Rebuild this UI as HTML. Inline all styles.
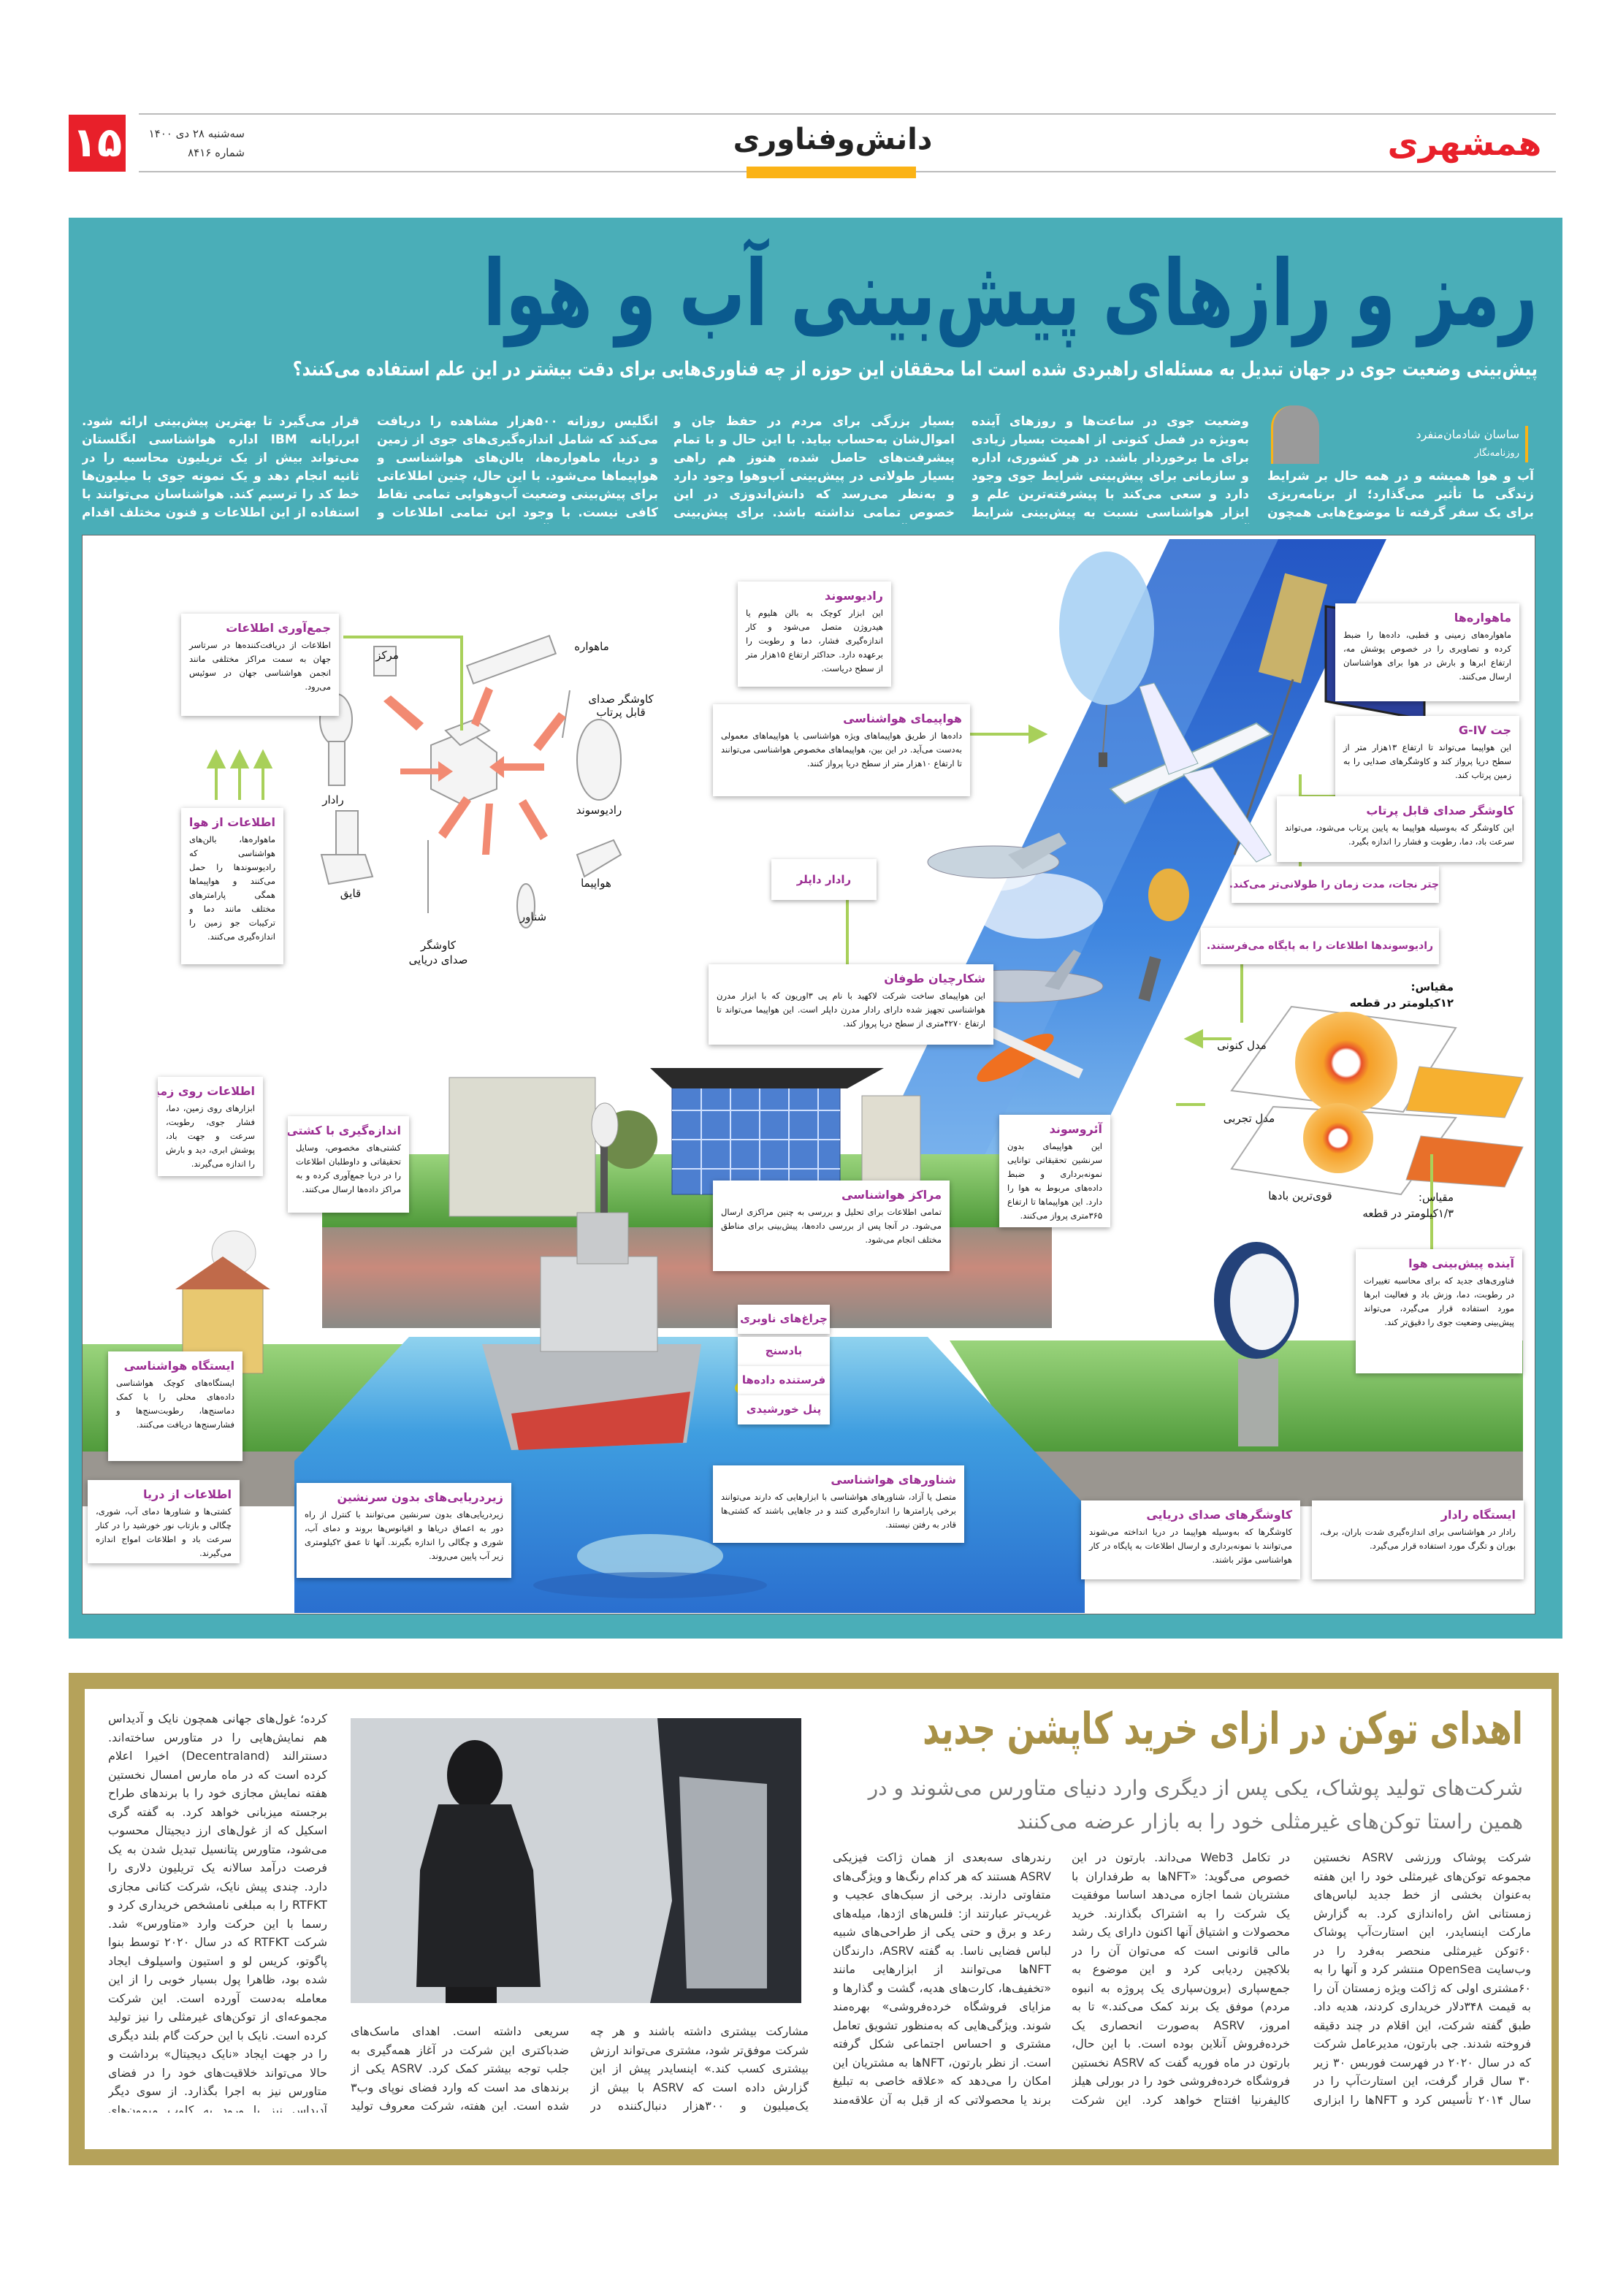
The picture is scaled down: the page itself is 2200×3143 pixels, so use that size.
<!DOCTYPE html>
<html><head><meta charset="utf-8">
<style>
*{margin:0;padding:0;box-sizing:border-box}
body{width:2200px;height:3143px;background:#fff;position:relative;overflow:hidden;font-family:"DejaVu Sans",sans-serif;direction:rtl}
.a{position:absolute}
.col{position:absolute;color:#fff;font-size:17px;line-height:25px;text-align:justify;overflow:hidden;font-weight:bold}
.b{position:absolute;background:#fff;box-shadow:0 2px 7px rgba(0,0,0,.35);padding:8px 11px;font-size:11.5px;line-height:19px;text-align:justify;color:#111;overflow:hidden}
.b h4{color:#9c2f93;font-size:16px;margin:2px 0 5px;font-weight:bold;white-space:nowrap}
.chip{position:absolute;background:#fff;box-shadow:0 2px 6px rgba(0,0,0,.35);color:#9c2f93;font-weight:bold;font-size:15px;text-align:center;line-height:38px;white-space:nowrap}
.lb{position:absolute;font-size:15px;color:#111;white-space:nowrap;text-align:center;transform:translateX(50%)}
.bt{position:absolute;color:#333;font-size:16px;line-height:25.5px;text-align:justify;overflow:hidden}
</style></head><body>

<!-- header -->
<div class="a" style="left:190px;top:155px;width:1940px;height:2px;background:#bbb"></div>
<div class="a" style="left:190px;top:234px;width:1940px;height:2px;background:#bbb"></div>
<div class="a" style="left:94px;top:157px;width:78px;height:78px;background:#e8202a;color:#fff;font-size:56px;font-weight:bold;text-align:center;line-height:78px">۱۵</div>
<div class="a" style="left:185px;top:170px;font-size:15px;color:#333;line-height:26px;text-align:right;width:150px">سه‌شنبه ۲۸ دی ۱۴۰۰<br>شماره ۸۴۱۶</div>
<div class="a" style="left:980px;top:168px;width:320px;text-align:center;font-size:40px;font-weight:bold;color:#222">دانش‌وفناوری</div>
<div class="a" style="left:1022px;top:228px;width:232px;height:16px;background:#fbb316"></div>
<div class="a" style="left:1880px;top:172px;width:250px;height:48px;color:#e8202a;font-size:46px;font-weight:bold;line-height:48px;text-align:center;letter-spacing:-2px">همشهری</div>

<!-- teal section -->
<div class="a" style="left:94px;top:298px;width:2045px;height:1945px;background:#4aaeb8"></div>
<div class="a" style="left:100px;top:318px;width:2005px;text-align:right;font-size:125px;font-weight:bold;color:#0a5a8e;line-height:170px;white-space:nowrap;transform:scaleX(.72);transform-origin:right center">رمز و رازهای پیش‌بینی آب و هوا</div>
<div class="a" style="left:100px;top:490px;width:2005px;text-align:right;font-size:27px;font-weight:bold;color:#fff;white-space:nowrap;transform:scaleX(.82);transform-origin:right center">پیش‌بینی وضعیت جوی در جهان تبدیل به مسئله‌ای راهبردی شده است اما محققان این حوزه از چه فناوری‌هایی برای دقت بیشتر در این علم استفاده می‌کنند؟</div>

<div class="a" style="left:1740px;top:555px;width:66px;height:80px;background:#9a9a9a;border-left:3px solid #fbb316;border-radius:30px 30px 0 0"></div>
<div class="a" style="left:1900px;top:583px;width:192px;height:50px;border-right:4px solid #fbb316;padding-right:8px;color:#fff;font-size:16px;line-height:24px;text-align:right;white-space:nowrap">ساسان شادمان‌منفرد<br><span style="font-size:13px">روزنامه‌نگار</span></div>
<div class="col" style="left:1735px;top:640px;width:365px;height:76px">آب و هوا همیشه و در همه حال بر شرایط زندگی ما تأثیر می‌گذارد؛ از برنامه‌ریزی برای یک سفر گرفته تا موضوع‌هایی همچون کشاورزی و... بنابراین به‌نظر می‌رسد که دانستن</div>
<div class="col" style="left:1330px;top:565px;width:380px;height:152px">وضعیت جوی در ساعت‌ها و روزهای آینده به‌ویژه در فصل کنونی از اهمیت بسیار زیادی برای ما برخوردار باشد. در هر کشوری، اداره و سازمانی برای پیش‌بینی شرایط جوی وجود دارد و سعی می‌کند با پیشرفته‌ترین علم و ابزار هواشناسی نسبت به پیش‌بینی شرایط آب‌وهوا اقدام کند. هشدارهای اداره‌های هواشناسی در دنیا می‌تواند کمک</div>
<div class="col" style="left:922px;top:565px;width:385px;height:152px">بسیار بزرگی برای مردم در حفظ جان و اموال‌شان به‌حساب بیاید. با این حال و با تمام پیشرفت‌های حاصل شده، هنوز هم راهی بسیار طولانی در پیش‌بینی آب‌وهوا وجود دارد و به‌نظر می‌رسد که دانش‌اندوزی در این خصوص تمامی نداشته باشد. برای پیش‌بینی شرایط آب‌وهوایی نیاز است داده‌های بسیاری جمع‌آوری شود. به‌عنوان مثال، اداره هواشناسی</div>
<div class="col" style="left:516px;top:565px;width:385px;height:152px">انگلیس روزانه ۵۰۰هزار مشاهده را دریافت می‌کند که شامل اندازه‌گیری‌های جوی از زمین و دریا، ماهواره‌ها، بالن‌های هواشناسی و هواپیماها می‌شود. با این حال، چنین اطلاعاتی برای پیش‌بینی وضعیت آب‌وهوایی تمامی نقاط کافی نیست. با وجود این تمامی اطلاعات و مشاهدات به‌دست آمده مورد بررسی و تحلیل</div>
<div class="col" style="left:112px;top:565px;width:380px;height:152px">قرار می‌گیرد تا بهترین پیش‌بینی ارائه شود. ابررایانه IBM اداره هواشناسی انگلستان می‌تواند بیش از یک تریلیون محاسبه را در ثانیه انجام دهد و یک نمونه جوی با میلیون‌ها خط کد را ترسیم کند. هواشناسان می‌توانند با استفاده از این اطلاعات و فنون مختلف اقدام به پیش‌بینی شرایط جوی در ساعت‌ها و روزهای آینده کنند.</div>

<!-- infographic white area -->
<div class="a" style="left:112px;top:732px;width:1990px;height:1478px;background:#fff;border:1px solid #666"></div>

<svg class="a" style="left:0;top:0" width="2200" height="3143">
<defs>
<linearGradient id="beam" x1="0" y1="0" x2="0" y2="1"><stop offset="0" stop-color="#2456c4"/><stop offset=".6" stop-color="#3f86e0"/><stop offset="1" stop-color="#8cc2f0"/></linearGradient>
<linearGradient id="sea" x1="0" y1="0" x2="0" y2="1"><stop offset="0" stop-color="#8fd2ee"/><stop offset=".35" stop-color="#3f9ee0"/><stop offset="1" stop-color="#2a6fcf"/></linearGradient>
<linearGradient id="grass" x1="0" y1="0" x2="0" y2="1"><stop offset="0" stop-color="#9ad47c"/><stop offset="1" stop-color="#4f9a3a"/></linearGradient>
<linearGradient id="soil" x1="0" y1="0" x2="0" y2="1"><stop offset="0" stop-color="#9a8d80"/><stop offset=".4" stop-color="#c98a7c"/><stop offset="1" stop-color="#8a8a86"/></linearGradient>
<linearGradient id="photo" x1="0" y1="0" x2="1" y2="0"><stop offset="0" stop-color="#d9dde0"/><stop offset="1" stop-color="#b8bec4"/></linearGradient>
<radialGradient id="st1"><stop offset="0" stop-color="#fff"/><stop offset=".25" stop-color="#fff"/><stop offset=".3" stop-color="#e8502a"/><stop offset=".45" stop-color="#f6a028"/><stop offset="1" stop-color="#f8c060"/></radialGradient>
</defs>
<polygon points="1601,738 1898,738 1466,1640 1169,1640" fill="url(#beam)"/>
<polygon points="1601,738 1750,738 1320,1640 1169,1640" fill="#6fa9ec" opacity=".45"/>
<ellipse cx="1420" cy="1240" rx="90" ry="45" fill="#fff" opacity=".7"/>
<ellipse cx="1360" cy="1190" rx="60" ry="30" fill="#fff" opacity=".6"/>
<rect x="1740" y="790" width="60" height="140" fill="#c9b26a" transform="rotate(15 1770 860)"/>
<polygon points="1815,830 1950,850 1950,985 1815,960" fill="#2b3f9a" stroke="#222" stroke-width="3"/>
<line x1="1770" y1="930" x2="1690" y2="1170" stroke="#666" stroke-width="3"/>
<ellipse cx="1515" cy="860" rx="65" ry="105" fill="#a8d2f4" opacity=".9"/>
<line x1="1515" y1="965" x2="1510" y2="1030" stroke="#777" stroke-width="2"/>
<rect x="1504" y="1030" width="12" height="20" fill="#555"/>
<polygon points="1520,1080 1720,990 1740,1005 1540,1100" fill="#f4f6fa" stroke="#8aa" stroke-width="2"/>
<polygon points="1600,1060 1560,940 1580,935 1640,1045" fill="#eef" stroke="#8aa"/>
<polygon points="1620,1060 1720,1180 1740,1170 1660,1050" fill="#eef" stroke="#8aa"/>
<ellipse cx="1360" cy="1180" rx="90" ry="22" fill="#c8d4de" stroke="#889"/>
<polygon points="1380,1170 1450,1140 1460,1155 1400,1190" fill="#b8c4ce"/>
<ellipse cx="1390" cy="1350" rx="120" ry="22" fill="#c0c8d4" stroke="#889"/>
<polygon points="1430,1350 1470,1300 1480,1305 1450,1355" fill="#aab4c0"/>
<ellipse cx="1600" cy="1225" rx="28" ry="36" fill="#e8b040"/>
<rect x="1566" y="1310" width="16" height="60" fill="#666" transform="rotate(15 1574 1340)"/>
<ellipse cx="1390" cy="1448" rx="60" ry="16" fill="#f07020" transform="rotate(-30 1390 1448)"/>
<line x1="1330" y1="1400" x2="1480" y2="1470" stroke="#eee" stroke-width="14"/>
<polygon points="1768,1378 1993,1407 1921,1522 1686,1493" fill="#fff" stroke="#aaa" stroke-width="2"/>
<circle cx="1843" cy="1455" r="70" fill="url(#st1)"/>
<polygon points="1943,1460 2085,1475 2060,1530 1925,1520" fill="#f6b030" stroke="#aaa"/>
<polygon points="1743,1515 1993,1530 1918,1635 1686,1600" fill="#fff" stroke="#aaa" stroke-width="2"/>
<circle cx="1832" cy="1558" r="48" fill="url(#st1)"/>
<polygon points="1945,1555 2085,1570 2060,1625 1925,1615" fill="#e8702a" stroke="#aaa"/>

<g stroke="#999" stroke-width="2" fill="#f4f4f4">
<polygon points="590,1020 640,1000 680,1030 680,1080 630,1100 590,1080"/>
<polygon points="610,1000 650,985 670,1000 630,1020"/>
<rect x="640" y="890" width="120" height="26" transform="rotate(-20 700 903)"/>
<rect x="512" y="885" width="30" height="40"/>
<ellipse cx="460" cy="985" rx="22" ry="35"/><rect x="450" y="1015" width="22" height="60"/>
<ellipse cx="820" cy="1040" rx="30" ry="55"/>
<polygon points="440,1170 500,1170 510,1200 450,1210"/><rect x="460" y="1110" width="30" height="60"/>
<polygon points="790,1170 840,1150 850,1170 800,1200"/>
<ellipse cx="720" cy="1240" rx="12" ry="30"/>
<line x1="586" y1="1150" x2="586" y2="1250"/>
<line x1="780" y1="945" x2="770" y2="1010"/>
</g>
<g fill="#f28a72">
<polygon points="570,1000 525,960 535,952 580,990"/>
<polygon points="645,990 665,940 675,945 655,995"/>
<polygon points="730,1020 765,975 775,982 740,1028"/>
<polygon points="548,1052 600,1052 600,1042 620,1056 600,1070 600,1060 548,1060"/>
<polygon points="745,1045 690,1045 690,1035 670,1050 690,1065 690,1055 745,1055"/>
<polygon points="600,1140 635,1090 645,1097 610,1148"/>
<polygon points="660,1170 665,1100 675,1100 670,1170"/>
<polygon points="740,1150 710,1100 720,1094 750,1144"/>
</g>
<g stroke="#a8d05a" stroke-width="4" fill="#a8d05a">
<line x1="296" y1="1095" x2="296" y2="1048"/><polygon points="286,1050 296,1030 306,1050"/>
<line x1="328" y1="1095" x2="328" y2="1048"/><polygon points="318,1050 328,1030 338,1050"/>
<line x1="360" y1="1095" x2="360" y2="1048"/><polygon points="350,1050 360,1030 370,1050"/>
<polyline points="470,872 632,872 632,1000" fill="none"/>
<polyline points="1290,1005 1415,1005" fill="none"/><polygon points="1410,995 1430,1005 1410,1015"/>
<polyline points="1160,1212 1160,1410 1240,1410" fill="none"/><polygon points="1236,1400 1256,1410 1236,1420"/>
<polyline points="1780,1235 1780,1060" fill="none"/>
<polyline points="1830,1090 1780,1090" fill="none"/>
<polyline points="1830,1312 1700,1312 1700,1400" fill="none"/>
<polyline points="1686,1422 1640,1422" fill="none"/><polygon points="1645,1412 1625,1422 1645,1432"/>
<polyline points="1230,1355 1330,1355 1330,1400" fill="none"/>
<polyline points="1650,1512 1610,1512" fill="none"/>
<polyline points="1145,1540 1145,1700 1200,1700" fill="none"/>
<polyline points="1510,1550 1510,1600 1410,1600" fill="none"/>
<polyline points="1960,1810 1960,1580" fill="none"/>
<polyline points="1818,1838 1760,1838" fill="none"/>
</g>

<polygon points="441,1580 1440,1580 1440,1680 441,1680" fill="url(#grass)"/>
<rect x="441" y="1680" width="999" height="138" fill="url(#soil)"/>
<polygon points="113,1840 590,1840 520,1990 113,1990" fill="url(#grass)"/>
<rect x="113" y="1987" width="430" height="75" fill="#9a9690"/>
<polygon points="1300,1835 2085,1835 2085,1990 1400,1990" fill="url(#grass)"/>
<rect x="1400" y="1987" width="685" height="75" fill="#9a9690"/>
<polygon points="560,1830 1270,1830 1485,2060 1485,2208 403,2208 403,2000" fill="url(#sea)"/>
<rect x="615" y="1475" width="200" height="190" fill="#dcdcd0" stroke="#999"/>
<rect x="920" y="1485" width="230" height="150" fill="#4d7fd0" stroke="#2a4a90"/>
<g stroke="#cfe0ff" stroke-width="2">
<line x1="920" y1="1520" x2="1150" y2="1520"/><line x1="920" y1="1560" x2="1150" y2="1560"/><line x1="920" y1="1600" x2="1150" y2="1600"/>
<line x1="960" y1="1485" x2="960" y2="1635"/><line x1="1000" y1="1485" x2="1000" y2="1635"/><line x1="1040" y1="1485" x2="1040" y2="1635"/><line x1="1080" y1="1485" x2="1080" y2="1635"/><line x1="1120" y1="1485" x2="1120" y2="1635"/>
</g>
<polygon points="890,1462 1210,1462 1160,1490 920,1490" fill="#2a2a2a"/>
<rect x="1180" y="1500" width="80" height="135" fill="#e0ddd0" stroke="#999"/>
<circle cx="860" cy="1560" r="40" fill="#6e8a4a"/>
<circle cx="320" cy="1715" r="30" fill="#f2f2f2" stroke="#bbb"/>
<rect x="250" y="1760" width="110" height="120" fill="#e8c870" stroke="#997"/>
<polygon points="240,1765 305,1720 370,1765" fill="#c06a4a"/>
<ellipse cx="1720" cy="1780" rx="58" ry="80" fill="#24427a"/>
<ellipse cx="1728" cy="1782" rx="44" ry="66" fill="#f2f4f8"/>
<rect x="1695" y="1860" width="55" height="120" fill="#a8aca8"/>
<polygon points="660,1840 960,1840 940,1975 700,1985" fill="#b8bcc0"/>
<polygon points="700,1935 945,1905 935,1975 710,1985" fill="#d0443a"/>
<rect x="740" y="1720" width="160" height="130" fill="#d8dadc" stroke="#999"/>
<rect x="790" y="1660" width="70" height="70" fill="#c8cacc" stroke="#999"/>
<rect x="822" y="1560" width="10" height="100" fill="#555"/>
<ellipse cx="828" cy="1540" rx="18" ry="30" fill="#eee" stroke="#999"/>
<ellipse cx="1030" cy="1900" rx="24" ry="12" fill="#d8d020"/>
<rect x="1020" y="1840" width="20" height="55" fill="#d8d020"/>
<ellipse cx="890" cy="2130" rx="100" ry="30" fill="#a8d4e8" opacity=".8"/>
<ellipse cx="890" cy="2170" rx="160" ry="18" fill="#2a62b8" opacity=".6"/>
</svg>

<div class="lb" style="right:1390px;top:876px">ماهواره</div>
<div class="lb" style="right:1670px;top:888px">مرکز</div>
<div class="lb" style="right:1350px;top:948px">کاوشگر صدای<br>قابل پرتاب</div>
<div class="lb" style="right:1744px;top:1086px">رادار</div>
<div class="lb" style="right:1380px;top:1100px">رادیوسوند</div>
<div class="lb" style="right:1720px;top:1214px">قایق</div>
<div class="lb" style="right:1384px;top:1200px">هواپیما</div>
<div class="lb" style="right:1470px;top:1246px">شناور</div>
<div class="lb" style="right:1600px;top:1284px;line-height:20px">کاوشگر<br>صدای دریایی</div>
<div class="lb" style="right:210px;top:1340px;line-height:22px;font-weight:bold;transform:none;text-align:right">مقیاس:<br>۱۲کیلومتر در قطعه</div>
<div class="lb" style="right:500px;top:1422px">مدل کنونی</div>
<div class="lb" style="right:490px;top:1522px">مدل تجربی</div>
<div class="lb" style="right:420px;top:1628px">قوی‌ترین بادها</div>
<div class="lb" style="right:210px;top:1628px;line-height:22px;transform:none;text-align:right">مقیاس:<br>۱/۳کیلومتر در قطعه</div>

<div class="b" style="left:248px;top:840px;width:216px;height:140px"><h4>جمع‌آوری اطلاعات</h4>اطلاعات از دریافت‌کننده‌ها در سرتاسر جهان به سمت مراکز مختلفی مانند انجمن هواشناسی جهان در سوئیس می‌رود.</div>
<div class="b" style="left:248px;top:1106px;width:140px;height:214px"><h4>اطلاعات از هوا</h4>ماهواره‌ها، بالن‌های هواشناسی که رادیوسوندها را حمل می‌کنند و هواپیماها همگی پارامترهای مختلف مانند دما و ترکیبات جو زمین را اندازه‌گیری می‌کنند.</div>
<div class="b" style="left:1010px;top:796px;width:210px;height:144px"><h4>رادیوسوند</h4>این ابزار کوچک به بالن هلیوم یا هیدروژن متصل می‌شود و کار اندازه‌گیری فشار، دما و رطوبت را برعهده دارد. حداکثر ارتفاع ۱۵هزار متر از سطح دریاست.</div>
<div class="b" style="left:976px;top:964px;width:352px;height:126px"><h4>هواپیمای هواشناسی</h4>داده‌ها از طریق هواپیماهای ویژه هواشناسی یا هواپیماهای معمولی به‌دست می‌آید. در این بین، هواپیماهای مخصوص هواشناسی می‌توانند تا ارتفاع ۱۰هزار متر از سطح دریا پرواز کنند.</div>
<div class="b" style="left:1828px;top:826px;width:252px;height:134px"><h4>ماهواره‌ها</h4>ماهواره‌های زمینی و قطبی، داده‌ها را ضبط کرده و تصاویری را در خصوص پوشش مه، ارتفاع ابرها و بارش در هوا برای هواشناسان ارسال می‌کنند.</div>
<div class="b" style="left:1828px;top:980px;width:252px;height:116px"><h4>جت G-IV</h4>این هواپیما می‌تواند تا ارتفاع ۱۳هزار متر از سطح دریا پرواز کند و کاوشگرهای صدایی را به زمین پرتاب کند.</div>
<div class="b" style="left:1748px;top:1090px;width:336px;height:90px"><h4>کاوشگر صدای قابل پرتاب</h4>این کاوشگر که به‌وسیله هواپیما به پایین پرتاب می‌شود، می‌تواند سرعت باد، دما، رطوبت و فشار را اندازه بگیرد.</div>
<div class="chip" style="left:1686px;top:1186px;width:284px;height:50px;line-height:50px;font-size:14px">چتر نجات، مدت زمان را طولانی‌تر می‌کند.</div>
<div class="chip" style="left:1056px;top:1176px;width:144px;height:56px;line-height:56px">رادار داپلر</div>
<div class="chip" style="left:1644px;top:1270px;width:326px;height:50px;line-height:50px;font-size:14px">رادیوسوندها اطلاعات را به پایگاه می‌فرستند.</div>
<div class="b" style="left:970px;top:1320px;width:390px;height:110px"><h4>شکارچیان طوفان</h4>این هواپیمای ساخت شرکت لاکهید با نام پی ۳اوریون که با ابزار مدرن هواشناسی تجهیز شده دارای رادار مدرن داپلر است. این هواپیما می‌تواند تا ارتفاع ۴۲۷۰متری از سطح دریا پرواز کند.</div>
<div class="b" style="left:216px;top:1474px;width:144px;height:136px"><h4>اطلاعات روی زمین</h4>ابزارهای روی زمین، دما، فشار جوی، رطوبت، سرعت و جهت باد، پوشش ابری، دید و بارش را اندازه می‌گیرند.</div>
<div class="b" style="left:394px;top:1528px;width:166px;height:132px"><h4>اندازه‌گیری با کشتی</h4>کشتی‌های مخصوص، وسایل تحقیقاتی و داوطلبان اطلاعات را در دریا جمع‌آوری کرده و به مراکز داده‌ها ارسال می‌کنند.</div>
<div class="b" style="left:1368px;top:1526px;width:152px;height:154px"><h4>آئروسوند</h4>این هواپیمای بدون سرنشین تحقیقاتی توانایی نمونه‌برداری و ضبط داده‌های مربوط به هوا را دارد. این هواپیماها تا ارتفاع ۳۶۵متری پرواز می‌کنند.</div>
<div class="b" style="left:976px;top:1616px;width:324px;height:124px"><h4>مراکز هواشناسی</h4>تمامی اطلاعات برای تحلیل و بررسی به چنین مراکزی ارسال می‌شود. در آنجا پس از بررسی داده‌ها، پیش‌بینی برای مناطق مختلف انجام می‌شود.</div>
<div class="b" style="left:1856px;top:1710px;width:228px;height:170px"><h4>آینده پیش‌بینی هوا</h4>فناوری‌های جدید که برای محاسبه تغییرات در رطوبت، دما، وزش باد و فعالیت ابرها مورد استفاده قرار می‌گیرد، می‌تواند پیش‌بینی وضعیت جوی را دقیق‌تر کند.</div>
<div class="b" style="left:148px;top:1850px;width:184px;height:150px"><h4>ایستگاه هواشناسی</h4>ایستگاه‌های کوچک هواشناسی داده‌های محلی را با کمک دماسنج‌ها، رطوبت‌سنج‌ها و فشارسنج‌ها دریافت می‌کنند.</div>
<div class="chip" style="left:1010px;top:1786px;width:126px;height:40px">چراغ‌های ناوبری</div>
<div class="chip" style="left:1010px;top:1830px;width:126px;height:40px">بادسنج</div>
<div class="chip" style="left:1010px;top:1870px;width:126px;height:40px">فرستنده داده‌ها</div>
<div class="chip" style="left:1010px;top:1910px;width:126px;height:40px">پنل خورشیدی</div>
<div class="b" style="left:120px;top:2026px;width:208px;height:114px"><h4>اطلاعات از دریا</h4>کشتی‌ها و شناورها دمای آب، شوری، چگالی و بازتاب نور خورشید را در کنار سرعت باد و اطلاعات امواج اندازه می‌گیرند.</div>
<div class="b" style="left:406px;top:2030px;width:294px;height:130px"><h4>زیردریایی‌های بدون سرنشین</h4>زیردریایی‌های بدون سرنشین می‌توانند با کنترل از راه دور به اعماق دریاها و اقیانوس‌ها بروند و دمای آب، شوری و چگالی را اندازه بگیرند. آنها تا عمق ۲کیلومتری زیر آب پایین می‌روند.</div>
<div class="b" style="left:976px;top:2006px;width:344px;height:106px"><h4>شناورهای هواشناسی</h4>متصل یا آزاد، شناورهای هواشناسی با ابزارهایی که دارند می‌توانند برخی پارامترها را اندازه‌گیری کنند و در جاهایی باشند که کشتی‌ها قادر به رفتن نیستند.</div>
<div class="b" style="left:1480px;top:2054px;width:300px;height:108px"><h4>کاوشگرهای صدای دریایی</h4>کاوشگرها که به‌وسیله هواپیما در دریا انداخته می‌شوند می‌توانند با نمونه‌برداری و ارسال اطلاعات به پایگاه در کار هواشناسی مؤثر باشند.</div>
<div class="b" style="left:1796px;top:2054px;width:290px;height:108px"><h4>ایستگاه رادار</h4>رادار در هواشناسی برای اندازه‌گیری شدت باران، برف، بوران و تگرگ مورد استفاده قرار می‌گیرد.</div>

<!-- bottom article -->
<div class="a" style="left:94px;top:2290px;width:2040px;height:674px;background:#b5a25a"></div>
<div class="a" style="left:116px;top:2312px;width:2008px;height:630px;background:#fff"></div>
<svg class="a" style="left:480px;top:2352px" width="617" height="390"><rect width="617" height="390" fill="#cfd3d7"/><polygon points="420,0 617,0 617,390 410,390 440,250" fill="#2a2d33"/><polygon points="450,80 570,90 570,370 460,370" fill="#a8adb3"/><ellipse cx="170" cy="78" rx="38" ry="48" fill="#1a1a1c"/><polygon points="120,118 220,118 250,208 260,368 90,368 95,208" fill="#222326"/><rect x="130" y="368" width="70" height="22" fill="#1a1a1c"/></svg>
<div class="a" style="left:1100px;top:2332px;width:985px;text-align:right;font-size:60px;font-weight:bold;color:#a89147;white-space:nowrap;transform:scaleX(.74);transform-origin:right center">اهدای توکن در ازای خرید کاپشن جدید</div>
<div class="a" style="left:1150px;top:2425px;width:935px;text-align:right;font-size:28px;color:#777;line-height:46px">شرکت‌های تولید پوشاک، یکی پس از دیگری وارد دنیای متاورس می‌شوند و در همین راستا توکن‌های غیرمثلی خود را به بازار عرضه می‌کنند</div>
<div class="bt" style="left:1798px;top:2530px;width:298px;height:360px">شرکت پوشاک ورزشی ASRV نخستین مجموعه توکن‌های غیرمثلی خود را این هفته به‌عنوان بخشی از خط جدید لباس‌های زمستانی اش راه‌اندازی کرد. به گزارش مارکت اینسایدر، این استارت‌آپ پوشاک ۶۰توکن غیرمثلی منحصر به‌فرد را در وب‌سایت OpenSea منتشر کرد و آنها را به ۶۰مشتری اولی که ژاکت ویژه زمستان آن را به قیمت ۳۴۸دلار خریداری کردند، هدیه داد. طبق گفته شرکت، این اقلام در چند دقیقه فروخته شدند. جی بارتون، مدیرعامل شرکت که در سال ۲۰۲۰ در فهرست فوربس ۳۰ زیر ۳۰ سال قرار گرفت، این استارت‌آپ را در سال ۲۰۱۴ تأسیس کرد و NFTها را ابزاری برای کمک به پرورش پایگاه مشتری در گیرتر و همچنین راهی برای شرکت</div>
<div class="bt" style="left:1467px;top:2530px;width:299px;height:360px">در تکامل Web3 می‌داند. بارتون در این خصوص می‌گوید: «NFTها به طرفداران با مشتریان شما اجازه می‌دهد اساسا موفقیت یک شرکت را به اشتراک بگذارند. خرید محصولات و اشتیاق آنها اکنون دارای یک رشد مالی قانونی است که می‌توان آن را در بلاکچین ردیابی کرد و این موضوع به جمع‌سپاری (برون‌سپاری یک پروژه به انبوه مردم) موفق یک برند کمک می‌کند.» تا به امروز، ASRV به‌صورت انحصاری یک خرده‌فروش آنلاین بوده است. با این حال، بارتون در ماه فوریه گفت که ASRV نخستین فروشگاه خرده‌فروشی خود را در بورلی هیلز کالیفرنیا افتتاح خواهد کرد. این شرکت همچنین جست‌وجوی قطعات زمین مجازی را در متاورس The Sandbox آغاز کرده است. توکن‌های دیجیتال فروخته شده در این هفته</div>
<div class="bt" style="left:1140px;top:2530px;width:299px;height:360px">رندرهای سه‌بعدی از همان ژاکت فیزیکی ASRV هستند که هر کدام رنگ‌ها و ویژگی‌های متفاوتی دارند. برخی از سبک‌های عجیب و غریب‌تر عبارتند از: فلس‌های اژدها، میله‌های رعد و برق و حتی یکی از طراحی‌های شبیه لباس فضایی ناسا. به گفته ASRV، دارندگان NFTها می‌توانند از ابزارهایی مانند «تخفیف‌ها، کارت‌های هدیه، گشت و گذارها و مزایای فروشگاه خرده‌فروشی» بهره‌مند شوند. ویژگی‌هایی که به‌منظور تشویق تعامل مشتری و احساس اجتماعی شکل گرفته است. از نظر بارتون، NFTها به مشتریان این امکان را می‌دهد که «علاقه خاصی به تبلیغ برند یا محصولاتی که از قبل به آن علاقه‌مند بوده‌اند، داشته باشند». بارتون در این خصوص هم گفت: «ارزش زیادی برای مشتری وجود دارد. آنها می‌توانند احساس</div>
<div class="bt" style="left:808px;top:2768px;width:299px;height:125px">مشارکت بیشتری داشته باشند و هر چه شرکت موفق‌تر شود، مشتری می‌تواند ارزش بیشتری کسب کند.» اینسایدر پیش از این گزارش داده است که ASRV با بیش از یک‌میلیون و ۳۰۰هزار دنبال‌کننده در اینستاگرام و انجمن‌های آنلاین، از زمان شروع همه‌گیری بیماری کووید-۱۹ رشد</div>
<div class="bt" style="left:480px;top:2768px;width:299px;height:125px">سریعی داشته است. اهدای ماسک‌های ضدباکتری این شرکت در آغاز همه‌گیری به جلب توجه بیشتر کمک کرد. ASRV یکی از برندهای مد است که وارد فضای نوپای وب۳ شده است. این هفته، شرکت معروف تولید پوشاک گپ (The Gap) نیز به‌طور مشابه مجموعه‌ای از NFTها را معرفی</div>
<div class="bt" style="left:148px;top:2340px;width:300px;height:552px">کرده؛ غول‌های جهانی همچون نایک و آدیداس هم نمایش‌هایی را در متاورس ساخته‌اند. دسنترالند (Decentraland) اخیرا اعلام کرده است که در ماه مارس امسال نخستین هفته نمایش مجازی خود را با برندهای طراح برجسته میزبانی خواهد کرد. به گفته گری اسکیل که از غول‌های ارز دیجیتال محسوب می‌شود، متاورس پتانسیل تبدیل شدن به یک فرصت درآمد سالانه یک تریلیون دلاری را دارد. چندی پیش نایک، شرکت کتانی مجازی RTFKT را به مبلغی نامشخص خریداری کرد و رسما با این حرکت وارد «متاورس» شد. شرکت RTFKT که در سال ۲۰۲۰ توسط بنوا پاگوتو، کریس لو و استیون واسیلوف ایجاد شده بود، ظاهرا پول بسیار خوبی را از این معامله به‌دست آورده است. این شرکت مجموعه‌ای از توکن‌های غیرمثلی را نیز تولید کرده است. نایک با این حرکت گام بلند دیگری را در جهت ایجاد «نایک دیجیتال» برداشت و حالا می‌تواند خلاقیت‌های خود را در فضای متاورس نیز به اجرا بگذارد. از سوی دیگر آدیداس نیز با ورود به کلوپ میمون‌های کسل‌زده خود را از این طریق به متاورس آورده است. پس از قلب در دنیای واقعی، به‌نظر می‌رسد برندهای مختلف پوشاک اعم از ورزشی و غیرورزشی قصد دارند در متاورس نیز رقابت خود را افتتاح تر دنبال کنند.</div>
</body></html>
